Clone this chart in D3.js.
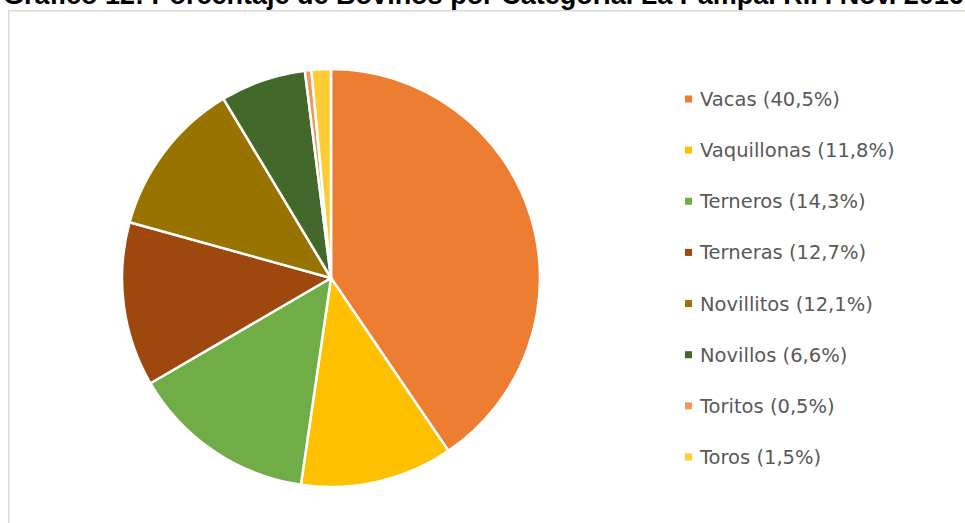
<!DOCTYPE html>
<html><head><meta charset="utf-8">
<script src="https://cdn.jsdelivr.net/npm/d3@7"></script>
<style>body{margin:0;background:#fff;overflow:hidden}</style>
</head><body>
<svg id="c" width="965" height="523"></svg>
<script>
const categories = ["Vacas","Vaquillonas","Terneros","Terneras","Novillitos","Novillos","Toritos","Toros"];
const values = [40.5, 11.8, 14.3, 12.7, 12.1, 6.6, 0.5, 1.5];
const labels = ["Vacas (40,5%)","Vaquillonas (11,8%)","Terneros (14,3%)","Terneras (12,7%)","Novillitos (12,1%)","Novillos (6,6%)","Toritos (0,5%)","Toros (1,5%)"];
const colors = ["#ED7D31","#FFC000","#70AD47","#9E480E","#997300","#43682B","#F1975A","#FFCD33"];
const title = "Gráfico 12: Porcentaje de Bovinos por Categoría. La Pampa. R.P. Nov. 2016";

const svg = d3.select("#c");
svg.append("text").attr("x", 3).attr("y", 4)
  .attr("font-family","Liberation Sans, Arial").attr("font-weight","bold").attr("font-size",27)
  .attr("fill","#000").text(title);
svg.append("rect").attr("x",8.75).attr("y",10.75).attr("width",1000).attr("height",600)
  .attr("fill","none").attr("stroke","#d9d9d9").attr("stroke-width",1.5);

const cx = 331, cy = 278, r = 209;
const pie = d3.pie().sort(null).value(d => d.v);
const data = pie(categories.map((c,i)=>({c, v: values[i], i})));
const arc = d3.arc().innerRadius(0).outerRadius(r);
const g = svg.append("g").attr("transform",`translate(${cx},${cy})`);
g.selectAll("path").data(data).enter().append("path")
  .attr("d", arc).attr("fill", d => colors[d.data.i])
  .attr("stroke","#fff").attr("stroke-width",2.5).attr("stroke-linejoin","round");

const y = d3.scalePoint().domain(categories).range([99, 457]);
const lg = svg.append("g");
categories.forEach((c,i)=>{
  lg.append("rect").attr("x",685).attr("y",y(c)-3.5).attr("width",7).attr("height",7).attr("fill",colors[i]);
  lg.append("text").attr("x",700).attr("y",y(c)).attr("dy","0.36em")
    .attr("font-family","'DejaVu Sans', sans-serif").attr("font-size",19.5).attr("fill","#595959")
    .text(labels[i]);
});
</script>
</body></html>
